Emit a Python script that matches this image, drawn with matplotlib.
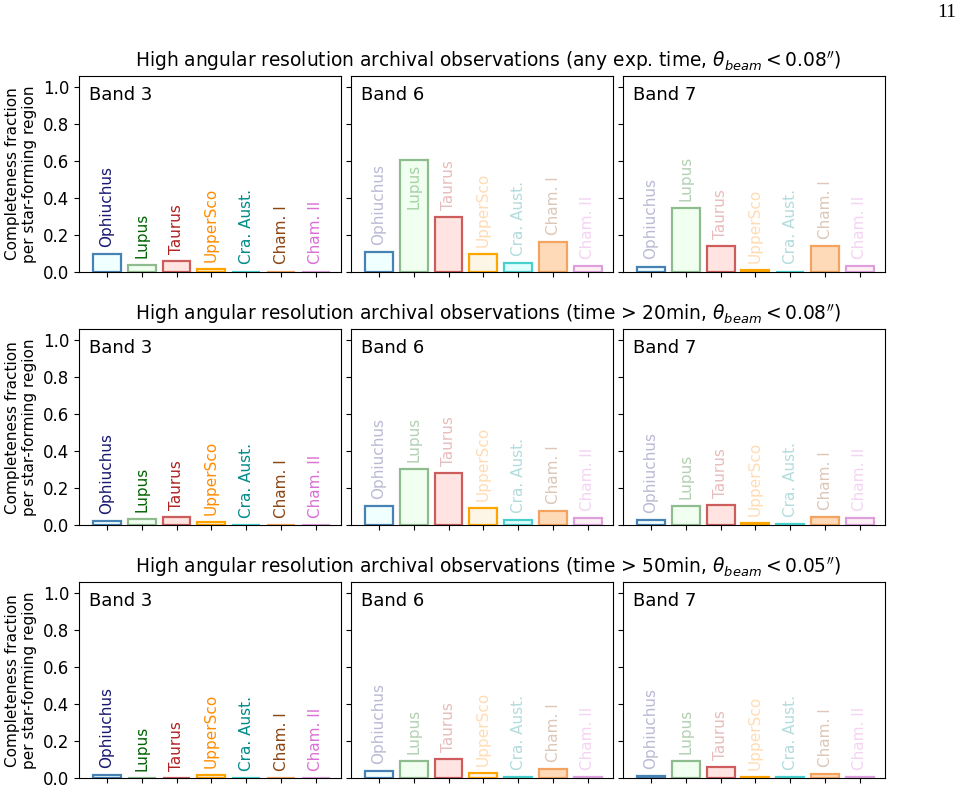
import matplotlib
matplotlib.use("Agg")
import matplotlib.pyplot as plt

# Regions and their colours
regions = ['Ophiuchus', 'Lupus', 'Taurus', 'UpperSco', 'Cra. Aust.', 'Cham. I', 'Cham. II']
text_colors = ['midnightblue', 'darkgreen', 'firebrick', 'darkorange', 'darkcyan', 'saddlebrown', 'orchid']
edge_colors = ['steelblue', 'darkseagreen', 'indianred', 'orange', 'mediumturquoise', 'sandybrown', 'plum']
face_colors = ['azure', 'honeydew', 'mistyrose', 'oldlace', 'lightcyan', 'peachpuff', 'lavenderblush']

bands = ['Band 3', 'Band 6', 'Band 7']

row_titles = [
    r'High angular resolution archival observations (any exp. time, $\theta_{beam} < 0.08^{\prime\prime}$)',
    r'High angular resolution archival observations (time > 20min, $\theta_{beam} < 0.08^{\prime\prime}$)',
    r'High angular resolution archival observations (time > 50min, $\theta_{beam} < 0.05^{\prime\prime}$)',
]

# completeness fractions, one list per band, per row
any_time_b3 = [0.097, 0.040, 0.058, 0.015, 0.003, 0.003, 0.003]
any_time_b6 = [0.106, 0.607, 0.297, 0.098, 0.048, 0.161, 0.034]
any_time_b7 = [0.030, 0.344, 0.140, 0.010, 0.003, 0.140, 0.034]

t20_b3 = [0.022, 0.035, 0.043, 0.018, 0.003, 0.003, 0.003]
t20_b6 = [0.105, 0.305, 0.283, 0.093, 0.027, 0.078, 0.037]
t20_b7 = [0.027, 0.105, 0.110, 0.010, 0.004, 0.045, 0.037]

t50_b3 = [0.018, 0.004, 0.004, 0.016, 0.004, 0.003, 0.003]
t50_b6 = [0.037, 0.094, 0.103, 0.028, 0.005, 0.048, 0.005]
t50_b7 = [0.010, 0.094, 0.059, 0.005, 0.005, 0.024, 0.005]

data = [
    [any_time_b3, any_time_b6, any_time_b7],
    [t20_b3, t20_b6, t20_b7],
    [t50_b3, t50_b6, t50_b7],
]

fig, axes = plt.subplots(3, 3, figsize=(9.62, 8.11), dpi=100, sharey=True)
plt.subplots_adjust(left=0.0821, right=0.92, bottom=0.0403, top=0.9063,
                    hspace=0.291, wspace=0.038)

x = list(range(len(regions)))
for r in range(3):
    for c in range(3):
        ax = axes[r, c]
        vals = data[r][c]
        ax.bar(x, vals, width=0.8, color=face_colors, edgecolor=edge_colors, linewidth=1.6)
        alpha = 1.0 if c == 0 else 0.3
        for i, v in enumerate(vals):
            # labels sit just above the bar, tall bars get the label inside
            ypos = v + 0.038 if v < 0.45 else 0.34
            ax.text(i, ypos, regions[i], rotation=90, ha='center', va='bottom',
                    fontsize=11, color=text_colors[i], alpha=alpha)
        ax.text(0.04, 0.95, bands[c], transform=ax.transAxes, va='top', ha='left', fontsize=13)
        ax.set_xticks(x)
        ax.set_xticklabels([])
        ax.set_xlim(-0.8, 6.72)
        ax.set_ylim(0, 1.06)
        ax.set_yticks([0.0, 0.2, 0.4, 0.6, 0.8, 1.0])
        ax.tick_params(labelsize=12)
    axes[r, 0].set_ylabel('Completeness fraction\nper star-forming region', fontsize=11)
    top = axes[r, 1].get_position().y1
    fig.text(0.507, top + 0.004, row_titles[r], ha='center', va='bottom', fontsize=13.4)

fig.text(0.994, 0.995, '11', ha='right', va='top', fontsize=14, family='Liberation Serif')

plt.savefig('out.png', dpi=100)
